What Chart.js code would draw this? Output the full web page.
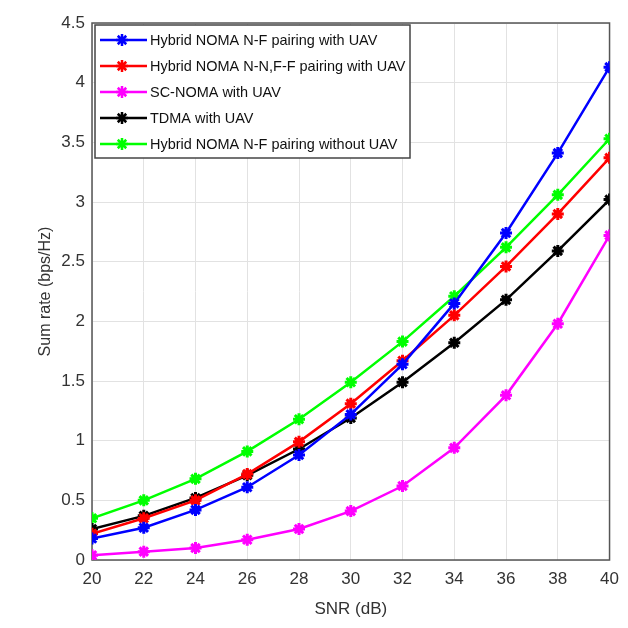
<!DOCTYPE html>
<html>
<head>
<meta charset="utf-8">
<script src="https://cdn.jsdelivr.net/npm/chart.js@4.4.1/dist/chart.umd.min.js"></script>
<style>
  html, body { margin: 0; padding: 0; background: #fff; }
  #wrap { width: 628px; height: 628px; }
</style>
</head>
<body>
<div id="wrap"><canvas id="myChart" width="628" height="628"></canvas></div>
<script>
// SNR values on the x axis
const snr = [20, 22, 24, 26, 28, 30, 32, 34, 36, 38, 40];

// sum rate values (bps/Hz)
const hybridNF = [0.18, 0.27, 0.42, 0.61, 0.88, 1.22, 1.64, 2.15, 2.74, 3.41, 4.13];
const hybridNNFF = [0.22, 0.35, 0.50, 0.72, 0.99, 1.31, 1.67, 2.05, 2.46, 2.90, 3.37];
const scNoma = [0.04, 0.07, 0.10, 0.17, 0.26, 0.41, 0.62, 0.94, 1.38, 1.98, 2.72];
const tdma = [0.26, 0.37, 0.52, 0.71, 0.93, 1.19, 1.49, 1.82, 2.18, 2.59, 3.02];
const hybridNoUav = [0.35, 0.50, 0.68, 0.91, 1.18, 1.49, 1.83, 2.21, 2.62, 3.06, 3.53];

const seriesNames = [
    'Hybrid NOMA N-F pairing with UAV',
    'Hybrid NOMA N-N,F-F pairing with UAV',
    'SC-NOMA with UAV',
    'TDMA with UAV',
    'Hybrid NOMA N-F pairing without UAV'
];
const seriesColors = ['#0000ff', '#ff0000', '#ff00ff', '#000000', '#00ff00'];
const seriesValues = [hybridNF, hybridNNFF, scNoma, tdma, hybridNoUav];

const yTicks = [0, 0.5, 1, 1.5, 2, 2.5, 3, 3.5, 4, 4.5];

const FONT = '"Liberation Sans", Arial, sans-serif';

// legend drawn inside the plot, top-left, like the MATLAB figure
const insideLegend = {
    id: 'insideLegend',
    afterDatasetsDraw(chart) {
        const ctx = chart.ctx;
        const area = chart.chartArea;
        const x0 = area.left + 3, y0 = area.top + 2;
        const w = 315, rowH = 26, h = rowH * chart.data.datasets.length + 3;
        ctx.save();
        ctx.fillStyle = '#fff';
        ctx.fillRect(x0, y0, w, h);
        ctx.strokeStyle = '#444';
        ctx.lineWidth = 1.5;
        ctx.strokeRect(x0, y0, w, h);
        chart.data.datasets.forEach((ds, i) => {
            const cy = y0 + 15 + i * rowH;
            ctx.strokeStyle = ds.borderColor;
            ctx.lineWidth = 2.5;
            ctx.beginPath();
            ctx.moveTo(x0 + 5, cy);
            ctx.lineTo(x0 + 52, cy);
            ctx.stroke();
            ctx.fillStyle = ds.borderColor;
            Chart.helpers.drawPoint(ctx, { pointStyle: 'star', radius: 6, borderWidth: 3 }, x0 + 27, cy);
            // squeeze the text a little, the original font is condensed
            ctx.save();
            ctx.font = '15px ' + FONT;
            ctx.textBaseline = 'middle';
            ctx.textAlign = 'left';
            ctx.fillStyle = '#111';
            ctx.translate(x0 + 55, cy + 1);
            ctx.scale(0.965, 1);
            ctx.fillText(ds.label, 0, 0);
            ctx.restore();
        });
        ctx.restore();
    }
};

// full box around the axes
const axesBox = {
    id: 'axesBox',
    beforeDatasetsDraw(chart) {
        const ctx = chart.ctx;
        const a = chart.chartArea;
        ctx.save();
        ctx.strokeStyle = '#555';
        ctx.lineWidth = 1.5;
        ctx.strokeRect(a.left, a.top, a.right - a.left, a.bottom - a.top);
        ctx.restore();
    }
};

const ctx = document.getElementById('myChart').getContext('2d');
new Chart(ctx, {
    type: 'line',
    data: {
        datasets: seriesValues.map((vals, i) => ({
            label: seriesNames[i],
            data: snr.map((x, j) => ({ x: x, y: vals[j] })),
            borderColor: seriesColors[i],
            backgroundColor: seriesColors[i],
            pointBorderColor: seriesColors[i],
            borderWidth: 2.5,
            pointStyle: 'star',
            pointRadius: 6,
            pointBorderWidth: 3,
            tension: 0
        }))
    },
    options: {
        responsive: false,
        animation: false,
        devicePixelRatio: 1,
        layout: { padding: { left: 36, top: 23, right: 18, bottom: 8 } },
        plugins: {
            legend: { display: false },
            tooltip: { enabled: false }
        },
        scales: {
            x: {
                type: 'linear',
                min: 20,
                max: 40,
                afterBuildTicks: (s) => { s.ticks = snr.map(v => ({ value: v })); },
                afterFit: (s) => { s.height = 60; },
                grid: { color: '#e2e2e2', lineWidth: 1, drawTicks: false },
                border: { display: false },
                ticks: {
                    color: '#333',
                    padding: 9,
                    maxRotation: 0,
                    font: { family: FONT, size: 17 }
                },
                title: {
                    display: true,
                    text: 'SNR (dB)',
                    color: '#333',
                    padding: { top: 4, bottom: 0 },
                    font: { family: FONT, size: 17 }
                }
            },
            y: {
                min: 0,
                max: 4.5,
                afterBuildTicks: (s) => { s.ticks = yTicks.map(v => ({ value: v })); },
                afterFit: (s) => { s.width = 56; },
                grid: { color: '#e2e2e2', lineWidth: 1, drawTicks: false },
                border: { display: false },
                ticks: {
                    color: '#333',
                    padding: 7,
                    font: { family: FONT, size: 17 },
                    callback: (v) => String(v)
                },
                title: {
                    display: true,
                    text: 'Sum rate (bps/Hz)',
                    color: '#333',
                    padding: { top: 0, bottom: 6 },
                    font: { family: FONT, size: 16 }
                }
            }
        }
    },
    plugins: [axesBox, insideLegend]
});
</script>
</body>
</html>
